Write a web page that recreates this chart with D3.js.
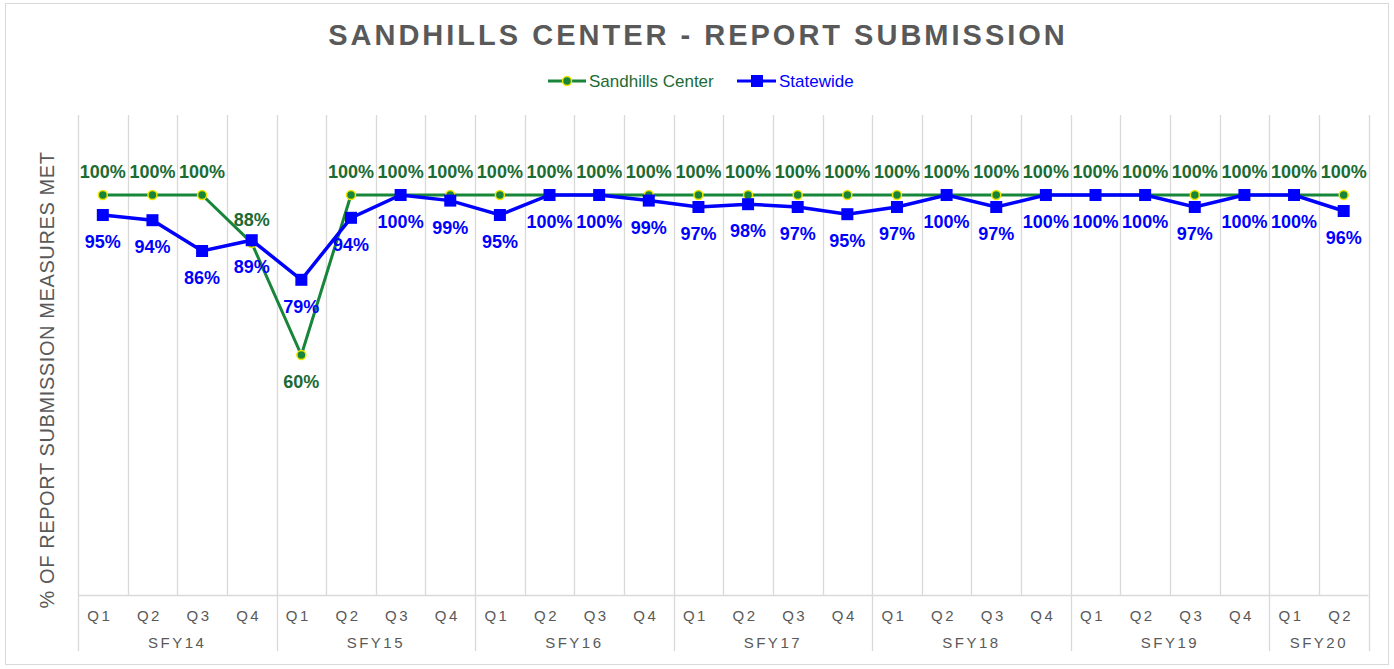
<!doctype html>
<html lang="en">
<head>
  <meta charset="utf-8">
  <title>Sandhills Center - Report Submission</title>
  <style>
    body { margin: 0; background: #fff; }
    text { font-family: "Liberation Sans", Arial, sans-serif; }
  </style>
</head>
<body>
<svg id="chart"></svg>
<script src="https://d3js.org/d3.v7.min.js"></script>
<script>
// data
var years = ["SFY14", "SFY15", "SFY16", "SFY17", "SFY18", "SFY19", "SFY20"];
var quartersPerYear = [4, 4, 4, 4, 4, 4, 2];
var quarterNames = ["Q1", "Q2", "Q3", "Q4"];
var sandhills = [1, 1, 1, 0.88, 0.60, 1, 1, 1, 1, 1, 1, 1, 1, 1, 1, 1, 1, 1, 1, 1, 1, 1, 1, 1, 1, 1];
var statewide = [0.95, 0.937, 0.86, 0.887, 0.788, 0.943, 1, 0.986, 0.95, 1, 1, 0.986,
                 0.97, 0.977, 0.97, 0.952, 0.97, 1, 0.97, 1, 1, 1, 0.97, 1, 1, 0.96];
var sandhillsLabelBelow = [4];   // the 60% label sits under its point

var width = 1394, height = 669;
var margin = {top: 115, right: 25, bottom: 73, left: 78};
var green = "#17853a", greenText = "#1b6b33", blue = "#0000ff", grey = "#595959", gridc = "#d9d9d9";

var svg = d3.select("#chart").attr("width", width).attr("height", height);

// category list
var cats = [];
years.forEach(function(y, i) {
  for (var q = 0; q < quartersPerYear[i]; q++) cats.push({year: y, q: quarterNames[q], key: y + "-" + quarterNames[q]});
});

var x = d3.scaleBand()
  .domain(cats.map(function(d) { return d.key; }))
  .range([margin.left, width - margin.right - 0.5]);
var y = d3.scaleLinear()
  .domain([0, 1.2])
  .range([height - margin.bottom - 1, height - margin.bottom - 1 - 480]);
var xc = function(i) { return x(cats[i].key) + x.bandwidth() / 2; };
var pct = d3.format(".0%");

// chart border
svg.append("rect").attr("x", 5.5).attr("y", 3.5).attr("width", 1383).attr("height", 661)
  .attr("fill", "none").attr("stroke", gridc);

// title
svg.append("text").attr("x", 698).attr("y", 45).attr("text-anchor", "middle")
  .attr("font-size", 29).attr("font-weight", "bold").attr("letter-spacing", 3)
  .attr("fill", grey).text("SANDHILLS CENTER - REPORT SUBMISSION");

// legend
var legend = svg.append("g");
legend.append("line").attr("x1", 548).attr("x2", 586).attr("y1", 81).attr("y2", 81).attr("stroke", green).attr("stroke-width", 3);
legend.append("circle").attr("cx", 567).attr("cy", 81).attr("r", 4.5).attr("fill", green).attr("stroke", "#f2e600").attr("stroke-width", 1.5);
legend.append("text").attr("x", 589).attr("y", 87).attr("font-size", 17).attr("fill", greenText).text("Sandhills Center");
legend.append("line").attr("x1", 737).attr("x2", 776).attr("y1", 81).attr("y2", 81).attr("stroke", blue).attr("stroke-width", 3);
legend.append("rect").attr("x", 751).attr("y", 75).attr("width", 12).attr("height", 12).attr("fill", blue);
legend.append("text").attr("x", 779).attr("y", 87).attr("font-size", 17).attr("fill", blue).text("Statewide");

// y axis title
svg.append("text")
  .attr("transform", "translate(54,380) rotate(-90)")
  .attr("text-anchor", "middle").attr("font-size", 20).attr("letter-spacing", 0.6).attr("fill", grey)
  .text("% OF REPORT SUBMISSION MEASURES MET");

// vertical gridlines at category boundaries
var yTop = y(1.2), yBot = y(0);
var bounds = cats.map(function(d) { return x(d.key); }).concat([x(cats[cats.length - 1].key) + x.bandwidth()]);
svg.append("g").selectAll("line").data(bounds).enter().append("line")
  .attr("x1", function(d) { return Math.round(d) + 0.5; })
  .attr("x2", function(d) { return Math.round(d) + 0.5; })
  .attr("y1", yTop).attr("y2", yBot)
  .attr("stroke", gridc).attr("stroke-width", 1.3);

// x axis line
svg.append("line").attr("x1", margin.left).attr("x2", bounds[bounds.length - 1])
  .attr("y1", yBot + 0.5).attr("y2", yBot + 0.5).attr("stroke", gridc).attr("stroke-width", 1.3);

// quarter labels
svg.append("g").selectAll("text").data(cats).enter().append("text")
  .attr("x", function(d, i) { return xc(i) - 3; })
  .attr("y", yBot + 26)
  .attr("text-anchor", "middle").attr("font-size", 15).attr("letter-spacing", 2.5)
  .attr("fill", grey).text(function(d) { return d.q; });

// year groups: separators and labels
var start = 0, yearGroups = [];
years.forEach(function(yr, i) {
  var x0 = x(cats[start].key), x1 = x(cats[start + quartersPerYear[i] - 1].key) + x.bandwidth();
  yearGroups.push({year: yr, x0: x0, x1: x1});
  start += quartersPerYear[i];
});
var yg = svg.append("g");
yg.selectAll("line").data(bounds.filter(function(b) {
    return yearGroups.some(function(g) { return Math.abs(g.x0 - b) < 0.1 || Math.abs(g.x1 - b) < 0.1; });
  })).enter().append("line")
  .attr("x1", function(d) { return Math.round(d) + 0.5; })
  .attr("x2", function(d) { return Math.round(d) + 0.5; })
  .attr("y1", yBot).attr("y2", yBot + 56)
  .attr("stroke", gridc).attr("stroke-width", 1.3);
yg.selectAll("text").data(yearGroups).enter().append("text")
  .attr("x", function(d) { return (d.x0 + d.x1) / 2; })
  .attr("y", yBot + 53)
  .attr("text-anchor", "middle").attr("font-size", 15).attr("letter-spacing", 2.5)
  .attr("fill", grey).text(function(d) { return d.year; });

// lines
var line = d3.line().x(function(d, i) { return xc(i); }).y(function(d) { return y(d); });
svg.append("path").datum(sandhills).attr("d", line)
  .attr("fill", "none").attr("stroke", green).attr("stroke-width", 3);
svg.append("path").datum(statewide).attr("d", line)
  .attr("fill", "none").attr("stroke", blue).attr("stroke-width", 3.5);

// markers
svg.append("g").selectAll("circle").data(sandhills).enter().append("circle")
  .attr("cx", function(d, i) { return xc(i); })
  .attr("cy", function(d) { return y(d); })
  .attr("r", 4.5).attr("fill", green).attr("stroke", "#f2e600").attr("stroke-width", 1.5);
svg.append("g").selectAll("rect").data(statewide).enter().append("rect")
  .attr("x", function(d, i) { return xc(i) - 6; })
  .attr("y", function(d) { return y(d) - 6; })
  .attr("width", 12).attr("height", 12).attr("fill", blue);

// data labels
svg.append("g").selectAll("text").data(sandhills).enter().append("text")
  .attr("x", function(d, i) { return xc(i); })
  .attr("y", function(d, i) { return y(d) + (sandhillsLabelBelow.indexOf(i) >= 0 ? 33 : -17); })
  .attr("text-anchor", "middle").attr("font-size", 18).attr("font-weight", "bold")
  .attr("fill", greenText).text(function(d) { return pct(d); });
svg.append("g").selectAll("text").data(statewide).enter().append("text")
  .attr("x", function(d, i) { return xc(i); })
  .attr("y", function(d) { return y(d) + 33; })
  .attr("text-anchor", "middle").attr("font-size", 18).attr("font-weight", "bold")
  .attr("fill", blue).text(function(d) { return pct(d); });
</script>
</body>
</html>
